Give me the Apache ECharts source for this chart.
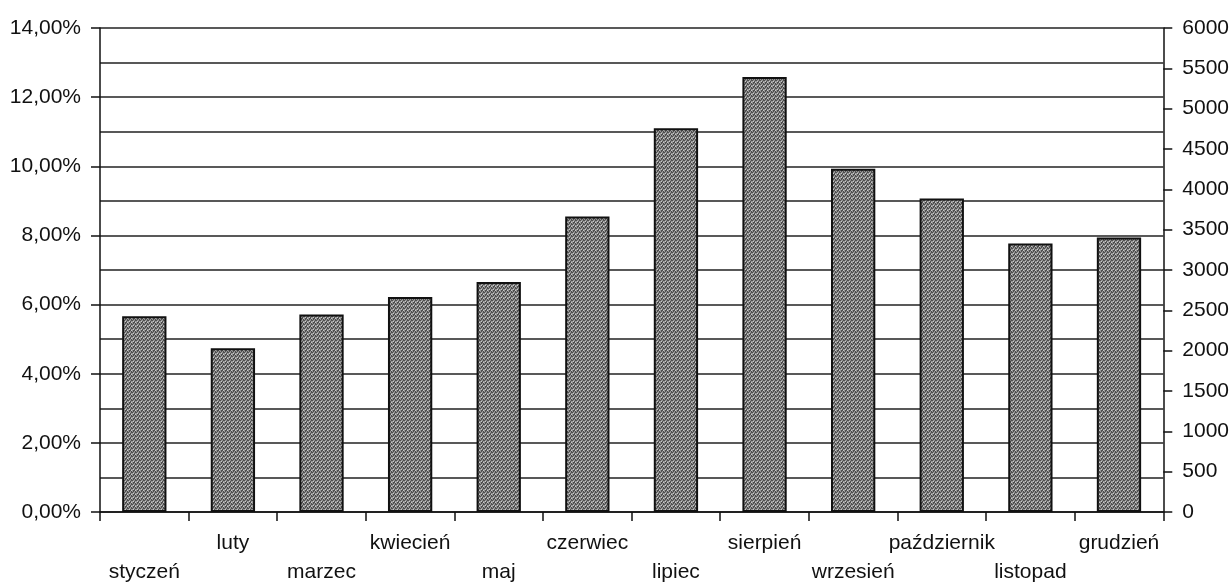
<!DOCTYPE html>
<html>
<head>
<meta charset="utf-8">
<script src="https://cdn.jsdelivr.net/npm/echarts@6/dist/echarts.min.js"></script>
<style>
  html, body { margin: 0; padding: 0; background: #fff; }
  #chart { width: 1232px; height: 587px; }
</style>
</head>
<body>
<div id="chart"></div>
<script>
// Monthly share (%) per month
const months = ['styczeń', 'luty', 'marzec', 'kwiecień', 'maj', 'czerwiec',
                'lipiec', 'sierpień', 'wrzesień', 'październik', 'listopad', 'grudzień'];
const shares = [5.66, 4.74, 5.71, 6.22, 6.65, 8.55, 11.1, 12.58, 9.93, 9.07, 7.77, 7.94];

// Axis ranges
const leftMax = 14, leftStep = 2;
const rightMax = 6000, rightStep = 500;

// Stippled gray fill for the bars
function stipple() {
  const c = document.createElement('canvas');
  c.width = 4; c.height = 4;
  const g = c.getContext('2d');
  g.fillStyle = '#959595';
  g.fillRect(0, 0, 4, 4);
  g.fillStyle = '#4e4e4e';
  [[0,0],[2,1],[1,2],[3,3],[3,0],[1,3],[2,2]].forEach(p => g.fillRect(p[0], p[1], 1, 1));
  g.fillStyle = '#c8c8c8';
  [[1,1],[3,2]].forEach(p => g.fillRect(p[0], p[1], 1, 1));
  return c;
}

const font = 'Liberation Sans, Arial, sans-serif';
const chart = echarts.init(document.getElementById('chart'), null, { renderer: 'canvas' });

chart.setOption({
  animation: false,
  backgroundColor: '#fff',
  grid: { left: 100, right: 68, top: 28, bottom: 74, containLabel: false },
  xAxis: {
    type: 'category',
    data: months,
    boundaryGap: true,
    axisLine: { lineStyle: { color: '#111', width: 1.5 } },
    axisTick: { show: true, alignWithLabel: false, length: 9, inside: false,
                lineStyle: { color: '#111', width: 1.5 } },
    axisLabel: {
      interval: 0,
      margin: 17,
      color: '#111',
      fontFamily: font,
      fontSize: 21,
      lineHeight: 29,
      verticalAlign: 'top',
      formatter: (v, i) => (i % 2 === 0 ? '\n' + v : v)
    },
    splitLine: { show: false }
  },
  yAxis: [
    {
      type: 'value',
      position: 'left',
      min: 0, max: leftMax, interval: leftStep,
      axisLine: { show: true, lineStyle: { color: '#111', width: 1.5 } },
      axisTick: { show: true, length: 9, lineStyle: { color: '#111', width: 1.5 } },
      axisLabel: {
        margin: 19, color: '#111', fontFamily: font, fontSize: 21,
        formatter: v => v.toFixed(2).replace('.', ',') + '%'
      },
      splitLine: { show: true, lineStyle: { color: '#222', width: 1.5 } },
      minorTick: { show: false, splitNumber: 2 },
      minorSplitLine: { show: true, lineStyle: { color: '#222', width: 1.5 } }
    },
    {
      type: 'value',
      position: 'right',
      min: 0, max: rightMax, interval: rightStep,
      axisLine: { show: true, lineStyle: { color: '#111', width: 1.5 } },
      axisTick: { show: true, length: 9, lineStyle: { color: '#111', width: 1.5 } },
      axisLabel: { margin: 19, color: '#111', fontFamily: font, fontSize: 21,
                   formatter: v => String(v) },
      splitLine: { show: false }
    }
  ],
  series: [{
    type: 'bar',
    yAxisIndex: 0,
    data: shares,
    barWidth: '50%',
    itemStyle: {
      color: { image: stipple(), repeat: 'repeat' },
      borderColor: '#111',
      borderWidth: 2
    }
  }]
});
</script>
</body>
</html>
